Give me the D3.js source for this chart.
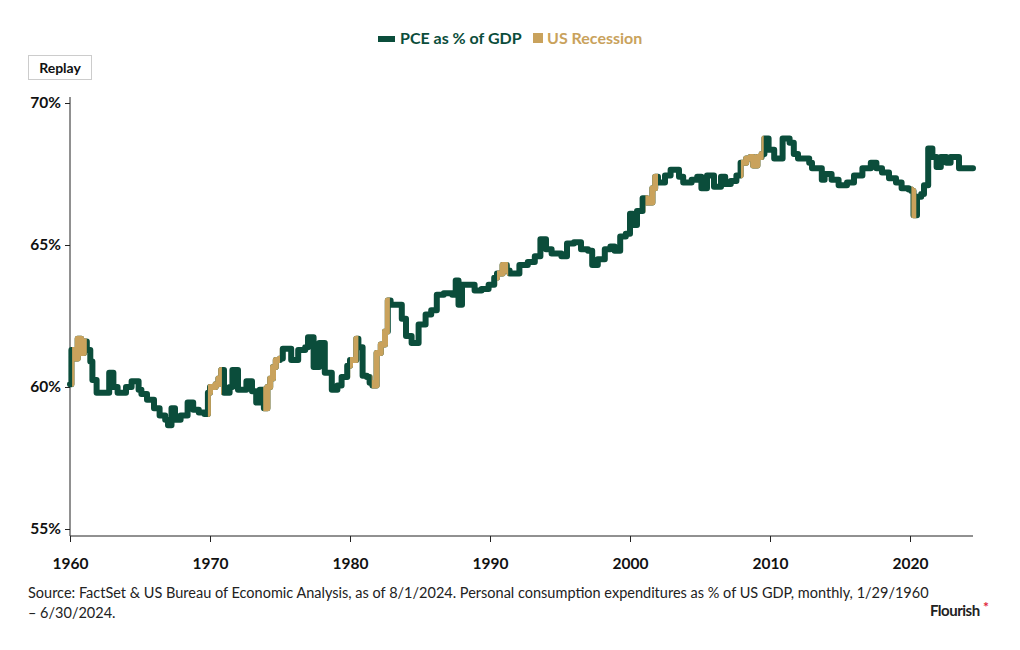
<!DOCTYPE html>
<html><head><meta charset="utf-8">
<script src="https://cdn.jsdelivr.net/npm/d3@7"></script>
<style>
body{margin:0;background:#fff;}
svg{font-family:"Source Sans Pro","Lato","Noto Sans",sans-serif;}
</style></head>
<body><svg id="c" width="1020" height="650"></svg>
<script>
const dates = [1960.0,1960.1,1960.35,1960.55,1960.8,1961.0,1961.2,1961.45,1961.6,1961.9,1962.8,1963.1,1963.4,1964.0,1964.4,1964.9,1965.1,1965.5,1966.0,1966.4,1966.8,1967.0,1967.25,1967.5,1967.9,1968.4,1968.8,1969.2,1969.6,1969.85,1970.0,1970.4,1970.6,1970.8,1971.0,1971.4,1971.6,1972.0,1972.6,1973.0,1973.3,1973.55,1973.85,1974.1,1974.3,1974.5,1974.7,1975.0,1975.2,1975.8,1976.3,1976.8,1977.0,1977.4,1977.8,1978.2,1978.7,1979.1,1979.4,1979.8,1980.0,1980.45,1980.6,1980.9,1981.2,1981.4,1981.6,1981.9,1982.2,1982.5,1982.7,1982.9,1983.7,1984.0,1984.4,1984.9,1985.4,1985.8,1986.2,1986.7,1987.3,1987.55,1987.75,1988.0,1988.9,1989.4,1989.9,1990.3,1990.5,1990.9,1991.2,1991.4,1992.1,1992.7,1993.2,1993.6,1994.0,1994.4,1995.1,1995.5,1996.0,1996.5,1997.0,1997.3,1997.7,1998.2,1998.6,1998.9,1999.3,1999.7,2000.0,2000.2,2000.5,2000.9,2001.2,2001.6,2001.8,2002.0,2002.5,2002.9,2003.5,2003.8,2004.4,2004.8,2005.1,2005.5,2006.0,2006.5,2006.8,2007.2,2007.6,2007.9,2008.3,2008.6,2008.8,2009.1,2009.4,2009.6,2009.9,2010.3,2010.9,2011.4,2011.7,2012.0,2012.8,2013.0,2013.7,2013.9,2014.4,2014.9,2015.5,2016.0,2016.6,2017.2,2017.6,2018.0,2018.5,2019.0,2019.4,2019.9,2020.1,2020.25,2020.5,2020.8,2021.0,2021.3,2021.6,2021.9,2022.2,2022.6,2022.9,2023.5,2024.5];
const pce = [60.1,61.3,61.0,61.7,61.2,61.6,61.3,60.9,60.25,59.8,60.5,60.0,59.8,60.0,60.2,59.9,59.75,59.55,59.25,59.0,58.85,58.65,59.25,58.85,59.0,59.45,59.2,59.1,59.05,59.8,60.0,60.1,60.3,60.6,59.8,60.0,60.6,59.9,60.2,59.85,59.45,59.9,59.25,60.0,60.3,60.7,60.95,61.0,61.35,60.95,61.3,61.4,61.75,60.7,61.55,60.5,59.9,60.05,60.35,60.75,60.95,61.7,61.4,60.4,60.35,60.15,60.05,61.2,61.5,61.95,63.05,62.9,62.4,61.8,61.55,62.2,62.55,62.7,63.25,63.3,63.25,63.75,62.9,63.6,63.4,63.45,63.6,63.85,64.0,64.3,64.1,64.0,64.3,64.4,64.6,65.2,64.85,64.7,64.6,65.05,65.1,64.85,64.8,64.3,64.5,64.85,64.95,64.8,65.3,65.4,66.1,65.7,66.2,66.65,66.5,67.0,67.4,67.2,67.45,67.65,67.4,67.2,67.3,67.4,67.0,67.45,67.05,67.4,67.15,67.25,67.45,67.9,68.05,68.1,67.8,68.1,68.2,68.75,68.35,68.05,68.75,68.6,68.2,68.05,67.9,67.7,67.3,67.5,67.3,67.1,67.2,67.45,67.7,67.9,67.7,67.55,67.35,67.2,67.0,66.95,66.9,66.05,66.7,66.8,67.1,68.4,68.1,67.75,68.1,67.9,68.1,67.7,67.7];
const recessionStart = [1960.15,1969.85,1973.8,1980.0,1981.55,1990.5,2001.1,2007.92,2020.1];
const recessionEnd   = [1961.2,1970.85,1975.0,1980.6,1982.85,1991.3,2002.0,2009.55,2020.45];
const yTicks = [55,60,65,70];
const xTicks = [1960,1970,1980,1990,2000,2010,2020];
const seriesNames = ["PCE as % of GDP","US Recession"];
const colors = ["#0b4d3b","#c9a25c"];

const svg = d3.select("#c");
const x = d3.scaleLinear().domain([1960,2024.5]).range([70,973]);
const y = d3.scaleLinear().domain([55,70]).range([529,103]);

// Legend
const leg = svg.append("g").attr("font-weight",700).attr("font-size",16);
leg.append("rect").attr("x",378).attr("y",36).attr("width",17).attr("height",6).attr("fill",colors[0]);
leg.append("text").attr("x",400).attr("y",44).attr("fill",colors[0]).text(seriesNames[0]);
leg.append("rect").attr("x",533).attr("y",33).attr("width",10).attr("height",10).attr("fill",colors[1]);
leg.append("text").attr("x",547).attr("y",44).attr("fill",colors[1]).text(seriesNames[1]);

// Replay button
svg.append("rect").attr("x",28.5).attr("y",55.5).attr("width",63).attr("height",24).attr("fill","#fff").attr("stroke","#ccc");
svg.append("text").attr("x",60).attr("y",73).attr("text-anchor","middle").attr("font-size",14).attr("font-weight",700).attr("fill","#111").text("Replay");

// Axes
const yAxis = svg.append("g").attr("transform","translate(70,0)")
  .call(d3.axisLeft(y).tickValues(yTicks).tickFormat(d=>d+"%").tickSize(5).tickPadding(4));
yAxis.select(".domain").attr("d","M0,97V536");
const xAxis = svg.append("g").attr("transform","translate(0,536)")
  .call(d3.axisBottom(x).tickValues(xTicks).tickFormat(d3.format("d")).tickSize(6).tickPadding(16));
xAxis.select(".domain").attr("d",`M${x(1960)},0H${x(2024.5)}`);
[yAxis,xAxis].forEach(g=>g.attr("font-family",null).attr("font-size",null));
svg.selectAll(".tick text").attr("font-size",15.5).attr("font-weight",700).attr("fill","#111");
svg.selectAll(".domain,.tick line").attr("stroke","#222");

// Line
const data = dates.map((d,i)=>({d, v:pce[i]}));
const line = d3.line().x(p=>x(p.d)).y(p=>y(p.v)).curve(d3.curveStepAfter);
svg.append("path").datum(data).attr("d",line).attr("fill","none").attr("stroke",colors[0])
  .attr("stroke-width",6).attr("stroke-linejoin","round").attr("stroke-linecap","round");

const defs = svg.append("defs");
const cp = defs.append("clipPath").attr("id","rec");
recessionStart.forEach((s,i)=>{
  cp.append("rect").attr("x",x(s)).attr("y",0).attr("width",x(recessionEnd[i])-x(s)).attr("height",650);
});
svg.append("path").datum(data).attr("d",line).attr("fill","none").attr("stroke",colors[1])
  .attr("stroke-width",6).attr("stroke-linejoin","round").attr("clip-path","url(#rec)");

// Source
const src = svg.append("text").attr("font-size",14.5).attr("fill","#222");
src.append("tspan").attr("x",28).attr("y",598).text("Source: FactSet & US Bureau of Economic Analysis, as of 8/1/2024. Personal consumption expenditures as % of US GDP, monthly, 1/29/1960");
src.append("tspan").attr("x",28).attr("y",618).text("– 6/30/2024.");

// Flourish mark
svg.append("text").attr("x",930).attr("y",616).attr("font-size",15).attr("font-weight",700).attr("fill","#222").attr("letter-spacing",-0.5).text("Flourish");
svg.append("text").attr("x",983).attr("y",612).attr("font-size",14).attr("font-weight",700).attr("fill","#e0243a").text("*");
</script></body></html>
